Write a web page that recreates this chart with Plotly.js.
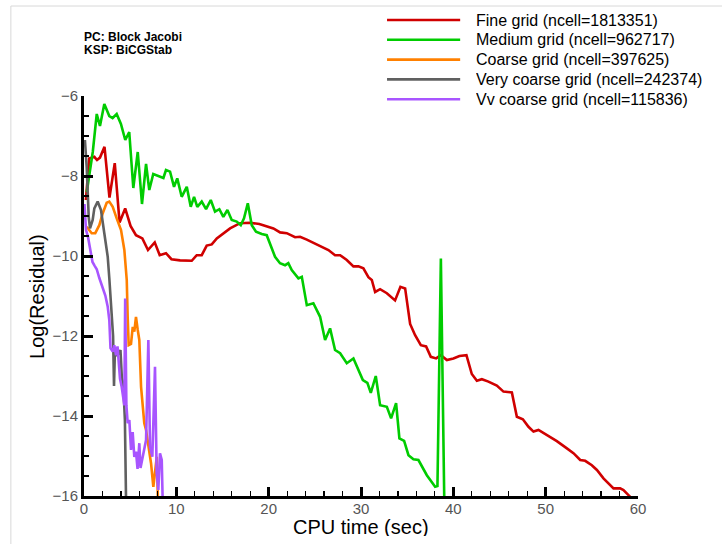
<!DOCTYPE html>
<html>
<head>
<meta charset="utf-8">
<script src="https://cdn.plot.ly/plotly-3.0.1.min.js"></script>
<style>html,body{margin:0;padding:0;background:#fff;}#chart{width:722px;height:544px;}</style>
</head>
<body>
<div id="chart"></div>
<script>
// Series names
const seriesNames = [
  "Fine grid (ncell=1813351)",
  "Medium grid (ncell=962717)",
  "Coarse grid (ncell=397625)",
  "Very coarse grid (ncell=242374)",
  "Vv coarse grid (ncell=115836)"
];

// Fine grid
const fineX = [0.2,0.57,1.12,1.41,1.73,2.22,2.76,3.33,3.85,4.46,5.04,5.63,6.32,6.93,7.66,8.2,8.88,9.47,10.4,11.67,12.21,12.75,13.29,13.84,14.38,15.09,15.82,16.9,17.98,18.99,19.79,20.51,21.24,21.96,22.86,23.4,24.13,25.03,25.75,26.47,27.19,27.74,28.46,29.18,29.72,30.26,30.8,31.17,31.53,32.07,32.8,33.69,34.27,34.78,35.32,35.86,36.48,37.05,37.56,38.14,38.65,39.3,40.01,40.66,41.42,42.0,42.55,43.09,43.8,44.71,45.43,46.34,46.88,47.53,48.14,48.68,49.22,50.13,51.21,52.3,53.01,53.74,54.28,55.0,55.55,56.26,56.8,57.35,58.07,58.43,59.15];
const fineY = [-8.6,-7.56,-7.52,-7.6,-7.54,-7.27,-8.54,-7.68,-9.16,-8.81,-9.25,-9.48,-9.56,-9.85,-9.66,-9.98,-9.93,-10.08,-10.11,-10.12,-9.98,-9.98,-9.74,-9.71,-9.56,-9.43,-9.31,-9.18,-9.17,-9.2,-9.25,-9.31,-9.41,-9.43,-9.53,-9.52,-9.59,-9.69,-9.79,-9.85,-9.98,-9.98,-10.1,-10.26,-10.26,-10.31,-10.53,-10.6,-10.9,-10.83,-10.93,-11.11,-10.77,-10.81,-11.7,-11.98,-12.23,-12.26,-12.52,-12.56,-12.48,-12.6,-12.56,-12.5,-12.48,-12.95,-13.12,-13.08,-13.14,-13.24,-13.39,-13.41,-14.02,-14.08,-14.27,-14.39,-14.35,-14.48,-14.63,-14.81,-14.93,-15.1,-15.12,-15.23,-15.35,-15.56,-15.68,-15.81,-15.81,-15.85,-16.02];

// Medium grid
const mediumX = [0.3,0.95,1.38,1.73,2.2,2.74,3.1,3.54,4.0,4.47,4.9,5.34,5.82,6.28,6.72,7.07,7.5,8.16,8.6,8.88,9.32,9.75,10.1,10.58,11.13,11.56,11.92,12.27,12.75,13.22,13.73,14.19,14.66,15.09,15.53,16.0,16.54,16.98,17.33,17.74,18.17,18.63,19.25,19.79,20.15,20.69,21.23,21.78,22.13,22.5,23.22,23.59,24.13,24.84,25.57,26.11,26.65,27.19,27.74,28.46,29.18,30.2,30.69,31.06,31.6,32.07,32.8,33.26,33.8,34.16,34.67,35.14,35.68,36.22,37.13,38.03,38.28,38.65,39.05];
const mediumY = [-8.4,-7.4,-6.45,-6.75,-6.2,-6.5,-6.55,-6.45,-6.7,-7.1,-6.9,-8.3,-7.4,-8.7,-7.7,-8.35,-7.95,-8.0,-8.05,-7.85,-7.89,-8.27,-8.06,-8.52,-8.27,-8.77,-8.52,-8.77,-8.64,-8.83,-8.6,-8.89,-8.83,-9.02,-8.85,-9.1,-9.14,-9.23,-9.06,-8.68,-9.23,-9.39,-9.45,-9.48,-9.68,-10.02,-10.18,-10.23,-10.18,-10.35,-10.56,-10.52,-11.23,-11.18,-11.52,-12.1,-11.81,-12.35,-12.43,-12.68,-12.56,-13.1,-13.17,-13.42,-13.0,-13.73,-13.77,-14.06,-13.68,-14.56,-14.62,-14.98,-15.08,-15.1,-15.48,-15.77,-15.75,-10.06,-16.6];

// Coarse grid
const coarseX = [0.3,0.83,1.22,1.66,2.03,2.46,2.74,3.11,3.54,4.01,4.37,4.63,4.73,4.84,5.09,5.28,5.45,5.63,5.82,5.99,6.18,6.36,6.53,6.72,6.9,7.07,7.26,7.51,7.88,8.02];
const coarseY = [-9.27,-9.43,-9.43,-9.23,-8.93,-8.67,-8.64,-8.77,-9.06,-9.35,-9.85,-10.6,-11.52,-12.23,-12.2,-11.77,-11.89,-11.52,-11.85,-12.1,-13.27,-13.77,-14.18,-14.35,-14.6,-14.85,-15.18,-15.77,-15.02,-16.2];

// Very coarse grid
const vcoarseX = [0.1,0.29,0.51,0.65,0.94,1.12,1.48,1.84,2.2,2.57,2.74,2.93,3.15,3.25,3.35,3.6,3.95,4.1,4.25,4.43,4.5,4.56];
const vcoarseY = [-7.1,-7.77,-9.02,-9.31,-9.1,-8.81,-8.64,-8.85,-9.43,-10.02,-10.55,-11.35,-12.0,-13.25,-12.35,-12.5,-12.35,-13.05,-13.2,-14.1,-15.3,-16.2];

// Vv coarse grid
const vvX = [0.05,0.22,0.43,0.65,0.92,1.14,1.38,1.66,2.03,2.31,2.57,2.74,2.87,3.11,3.28,3.47,3.63,3.76,3.9,4.08,4.26,4.37,4.46,4.59,4.73,4.91,5.09,5.27,5.45,5.63,5.8,5.99,6.12,6.28,6.53,6.72,6.97,7.15,7.4,7.69,7.87,8.05,8.23,8.42,8.53];
const vvY = [-8.7,-9.35,-9.52,-9.8,-10.15,-10.24,-10.33,-10.55,-10.8,-10.99,-11.27,-11.6,-12.3,-12.39,-12.23,-12.48,-12.26,-12.8,-13.07,-13.27,-13.53,-13.73,-11.06,-13.73,-14.18,-14.1,-14.85,-14.4,-15.02,-14.89,-15.32,-14.68,-15.3,-15.1,-14.85,-14.6,-12.1,-14.77,-15.02,-12.77,-15.43,-15.85,-14.93,-15.1,-16.2];

const xTickVals = [0,10,20,30,40,50,60];
const yTickVals = [-6,-8,-10,-12,-14,-16];
const xTitle = "CPU time (sec)";
const yTitle = "Log(Residual)";
const noteLines = ["PC: Block Jacobi", "KSP: BiCGStab"];

const colors = ["#d00000","#00cc00","#ff8000","#606060","#a855ff"];
const xs = [fineX, mediumX, coarseX, vcoarseX, vvX];
const ys = [fineY, mediumY, coarseY, vcoarseY, vvY];

const traces = xs.map((x, i) => ({
  x: x, y: ys[i], type: "scatter", mode: "lines", name: seriesNames[i],
  line: {color: colors[i], width: 2.6}, showlegend: false
}));

const font = "Liberation Sans, Arial, sans-serif";

// Manual legend (built from seriesNames / colors)
const legY0 = 1.19, legStep = 0.0495;
const legendShapes = seriesNames.map((n, i) => ({
  type: "line", xref: "paper", yref: "paper", x0: 0.547, x1: 0.679,
  y0: legY0 - i * legStep, y1: legY0 - i * legStep, line: {color: colors[i], width: 2.6}
}));
const legendTexts = seriesNames.map((n, i) => ({
  xref: "paper", yref: "paper", x: 0.704, y: legY0 - i * legStep, xanchor: "left", yanchor: "middle",
  showarrow: false, text: n, font: {family: font, size: 16, color: "#000"}, height: 19
}));

const layout = {
  width: 722, height: 544,
  margin: {l: 84, r: 84, t: 96, b: 48},
  paper_bgcolor: "#fff", plot_bgcolor: "#fff",
  showlegend: false,
  xaxis: {
    range: [0, 60], tickvals: xTickVals, ticks: "inside", ticklen: 9, tickwidth: 3, tickcolor: "#000",
    showline: true, linecolor: "#000", linewidth: 3, showgrid: false, zeroline: false,
    minor: {dtick: 2, ticks: "inside", ticklen: 5, tickwidth: 1.2, tickcolor: "#000", showgrid: false},
    tickfont: {family: font, size: 15, color: "#555"}, ticklabelstandoff: -3
  },
  yaxis: {
    range: [-16, -6], tickvals: yTickVals, ticks: "inside", ticklen: 9, tickwidth: 3, tickcolor: "#000",
    showline: true, linecolor: "#000", linewidth: 3, showgrid: false, zeroline: false,
    minor: {dtick: 0.5, ticks: "inside", ticklen: 5, tickwidth: 1.2, tickcolor: "#000", showgrid: false},
    tickfont: {family: font, size: 15, color: "#555"}
  },
  annotations: [
    {xref: "paper", yref: "paper", x: 0.5, y: (496 - 527) / 400, xanchor: "center", yanchor: "middle",
     showarrow: false, text: xTitle, font: {family: font, size: 20, color: "#000"}, height: 18},
    {xref: "paper", yref: "paper", x: -0.085, y: 0.5, xanchor: "center", yanchor: "middle", textangle: -90,
     showarrow: false, text: yTitle, font: {family: font, size: 20, color: "#000"}},
    {xref: "paper", yref: "paper", x: -0.004, y: (496 - 37) / 400, xanchor: "left", yanchor: "middle",
     showarrow: false, text: "<b>" + noteLines[0] + "</b>", font: {family: font, size: 12, color: "#000"}, height: 12},
    {xref: "paper", yref: "paper", x: -0.004, y: (496 - 49.5) / 400, xanchor: "left", yanchor: "middle",
     showarrow: false, text: "<b>" + noteLines[1] + "</b>", font: {family: font, size: 12, color: "#000"}, height: 12}
  ].concat(legendTexts),
  shapes: [
    {type: "line", xref: "paper", yref: "paper", x0: -0.132, x1: 1.2, y0: 1.225, y1: 1.225, line: {color: "#d8d8d8", width: 1}},
    {type: "line", xref: "paper", yref: "paper", x0: -0.132, x1: -0.132, y0: 1.225, y1: -0.15, line: {color: "#d8d8d8", width: 1}}
  ].concat(legendShapes)
};

Plotly.newPlot("chart", traces, layout, {displayModeBar: false, staticPlot: true});
</script>
</body>
</html>
